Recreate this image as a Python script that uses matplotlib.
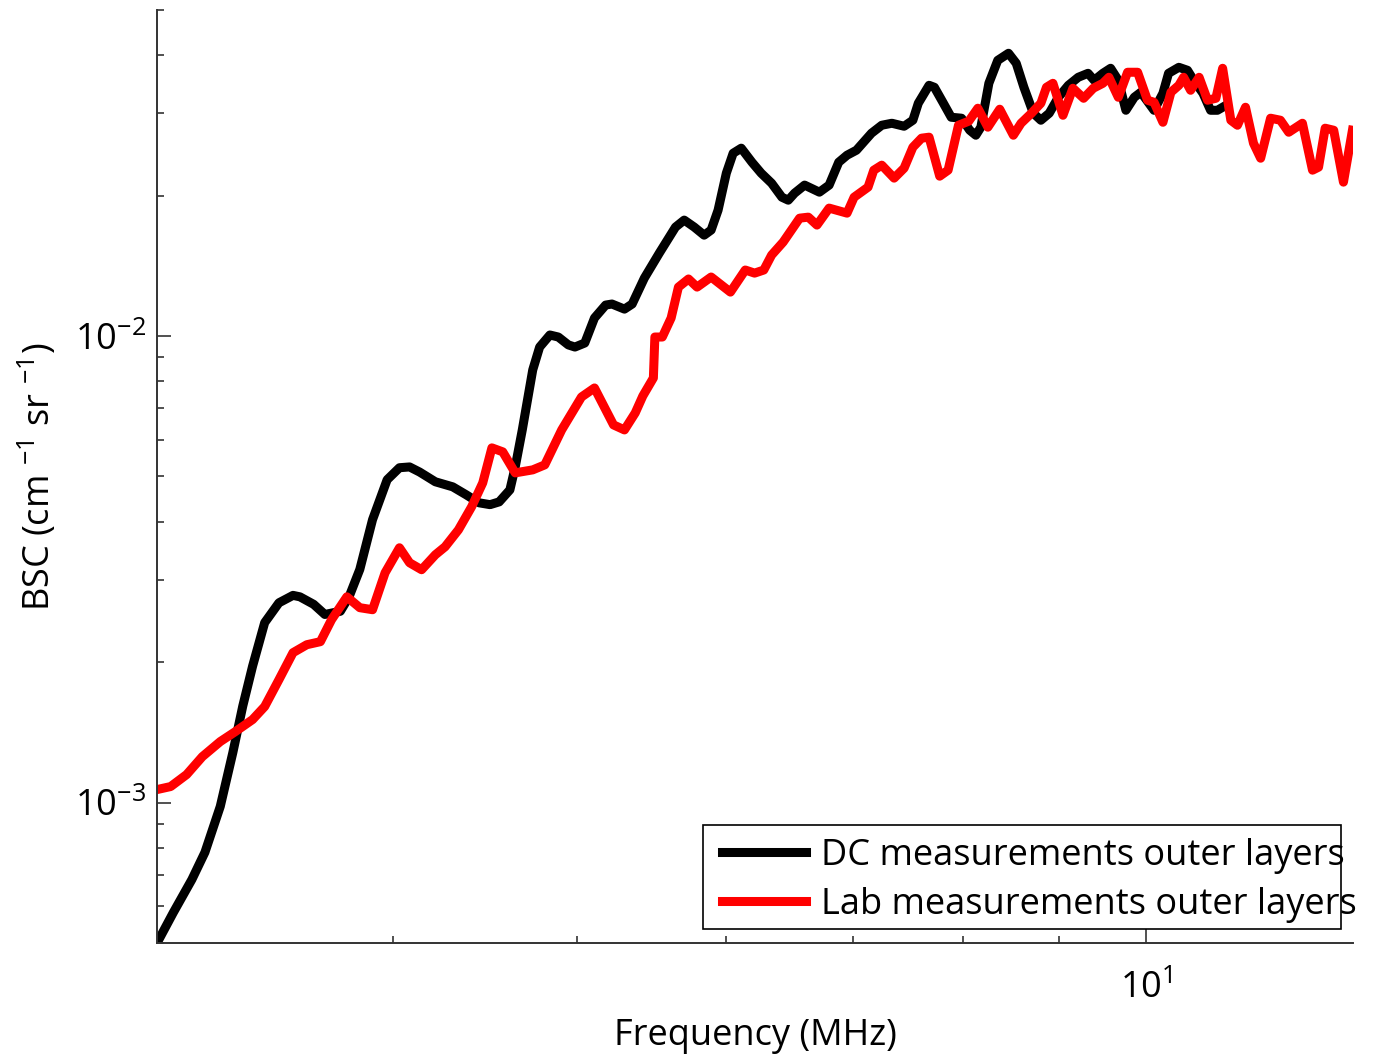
import matplotlib
matplotlib.use("Agg")
import matplotlib.pyplot as plt
from matplotlib.patches import Rectangle
from matplotlib.ticker import FixedLocator, NullFormatter

# backscatter coefficient spectra, DC vs lab, outer layers
dc_freq = [3.00, 3.06, 3.13, 3.18, 3.24, 3.29, 3.33, 3.37, 3.42, 3.48,
           3.54, 3.57, 3.63, 3.68, 3.75, 3.79, 3.84, 3.90, 3.97, 4.03,
           4.08, 4.13, 4.21, 4.30, 4.37, 4.44, 4.50, 4.55, 4.61, 4.64,
           4.68, 4.74, 4.78, 4.84, 4.89, 4.95, 4.99, 5.05, 5.11, 5.18,
           5.22, 5.30, 5.35, 5.43, 5.53, 5.64, 5.70, 5.77, 5.84, 5.89,
           5.94, 6.00, 6.05, 6.11, 6.19, 6.26, 6.34, 6.42, 6.47, 6.52,
           6.60, 6.72, 6.80, 6.88, 6.95, 7.03, 7.16, 7.25, 7.34, 7.45,
           7.53, 7.58, 7.68, 7.73, 7.81, 7.89, 7.99, 8.07, 8.13, 8.18,
           8.26, 8.35, 8.46, 8.54, 8.62, 8.72, 8.80, 8.89, 8.99, 9.10,
           9.21, 9.32, 9.39, 9.49, 9.58, 9.67, 9.76, 9.86, 9.94, 10.10,
           10.21, 10.28, 10.41, 10.52, 10.60, 10.72, 10.82, 10.91, 10.98]
dc_bsc = [5.00e-4, 5.81e-4, 6.84e-4, 7.82e-4, 9.81e-4, 1.28e-3, 1.61e-3, 1.96e-3, 2.43e-3, 2.68e-3,
          2.78e-3, 2.76e-3, 2.66e-3, 2.53e-3, 2.57e-3, 2.76e-3, 3.16e-3, 4.04e-3, 4.92e-3, 5.22e-3,
          5.24e-3, 5.11e-3, 4.87e-3, 4.75e-3, 4.57e-3, 4.39e-3, 4.35e-3, 4.41e-3, 4.68e-3, 5.24e-3,
          6.29e-3, 8.46e-3, 9.47e-3, 1.005e-2, 9.95e-3, 9.57e-3, 9.47e-3, 9.66e-3, 1.093e-2, 1.165e-2,
          1.171e-2, 1.142e-2, 1.171e-2, 1.331e-2, 1.506e-2, 1.712e-2, 1.772e-2, 1.712e-2, 1.645e-2, 1.687e-2,
          1.861e-2, 2.234e-2, 2.465e-2, 2.527e-2, 2.358e-2, 2.234e-2, 2.126e-2, 1.984e-2, 1.955e-2, 2.024e-2,
          2.106e-2, 2.034e-2, 2.106e-2, 2.358e-2, 2.441e-2, 2.502e-2, 2.721e-2, 2.830e-2, 2.858e-2, 2.816e-2,
          2.901e-2, 3.155e-2, 3.447e-2, 3.413e-2, 3.170e-2, 2.944e-2, 2.930e-2, 2.761e-2, 2.694e-2, 2.803e-2,
          3.481e-2, 3.899e-2, 4.037e-2, 3.842e-2, 3.413e-2, 3.003e-2, 2.901e-2, 3.003e-2, 3.249e-2, 3.447e-2,
          3.586e-2, 3.657e-2, 3.533e-2, 3.657e-2, 3.749e-2, 3.533e-2, 3.047e-2, 3.249e-2, 3.331e-2, 3.047e-2,
          3.314e-2, 3.657e-2, 3.767e-2, 3.712e-2, 3.533e-2, 3.314e-2, 3.047e-2, 3.047e-2, 3.093e-2]

lab_freq = [3.00, 3.05, 3.11, 3.17, 3.24, 3.30, 3.37, 3.42, 3.48, 3.54,
            3.60, 3.66, 3.71, 3.78, 3.84, 3.90, 3.96, 4.03, 4.08, 4.14,
            4.21, 4.26, 4.33, 4.40, 4.46, 4.51, 4.57, 4.64, 4.74, 4.81,
            4.91, 5.03, 5.11, 5.23, 5.30, 5.37, 5.42, 5.49, 5.50, 5.55,
            5.61, 5.66, 5.73, 5.79, 5.89, 6.03, 6.14, 6.21, 6.28, 6.34,
            6.43, 6.56, 6.63, 6.70, 6.80, 6.95, 7.01, 7.13, 7.18, 7.25,
            7.36, 7.45, 7.53, 7.61, 7.68, 7.78, 7.86, 7.96, 8.06, 8.15,
            8.25, 8.37, 8.51, 8.59, 8.70, 8.80, 8.86, 8.93, 9.04, 9.15,
            9.27, 9.38, 9.49, 9.56, 9.67, 9.78, 9.90, 10.02, 10.10, 10.21,
            10.31, 10.41, 10.47, 10.56, 10.67, 10.78, 10.89, 10.98, 11.09, 11.18,
            11.29, 11.40, 11.50, 11.64, 11.78, 11.90, 12.10, 12.25, 12.34, 12.44,
            12.57, 12.72, 12.86]
lab_bsc = [1.066e-3, 1.082e-3, 1.148e-3, 1.254e-3, 1.351e-3, 1.419e-3, 1.506e-3, 1.606e-3, 1.834e-3, 2.095e-3,
           2.179e-3, 2.212e-3, 2.465e-3, 2.760e-3, 2.616e-3, 2.590e-3, 3.108e-3, 3.516e-3, 3.265e-3, 3.155e-3,
           3.397e-3, 3.533e-3, 3.842e-3, 4.304e-3, 4.844e-3, 5.757e-3, 5.645e-3, 5.089e-3, 5.165e-3, 5.294e-3,
           6.291e-3, 7.402e-3, 7.738e-3, 6.448e-3, 6.291e-3, 6.841e-3, 7.439e-3, 8.130e-3, 9.950e-3, 9.950e-3,
           1.093e-2, 1.273e-2, 1.325e-2, 1.273e-2, 1.338e-2, 1.242e-2, 1.385e-2, 1.364e-2, 1.385e-2, 1.491e-2,
           1.590e-2, 1.789e-2, 1.798e-2, 1.729e-2, 1.880e-2, 1.834e-2, 1.984e-2, 2.085e-2, 2.267e-2, 2.324e-2,
           2.180e-2, 2.290e-2, 2.539e-2, 2.655e-2, 2.668e-2, 2.201e-2, 2.267e-2, 2.830e-2, 2.887e-2, 3.078e-2,
           2.803e-2, 3.063e-2, 2.694e-2, 2.858e-2, 3.003e-2, 3.155e-2, 3.413e-2, 3.481e-2, 2.973e-2, 3.397e-2,
           3.233e-2, 3.397e-2, 3.481e-2, 3.586e-2, 3.249e-2, 3.676e-2, 3.676e-2, 3.202e-2, 3.170e-2, 2.872e-2,
           3.331e-2, 3.447e-2, 3.586e-2, 3.363e-2, 3.586e-2, 3.202e-2, 3.233e-2, 3.749e-2, 2.901e-2, 2.830e-2,
           3.093e-2, 2.590e-2, 2.405e-2, 2.930e-2, 2.901e-2, 2.734e-2, 2.858e-2, 2.267e-2, 2.301e-2, 2.789e-2,
           2.761e-2, 2.137e-2, 2.761e-2]

series_labels = ["DC measurements outer layers", "Lab measurements outer layers"]
xtick_vals = [10]
xtick_text = [r"$10^{1}$"]
ytick_vals = [1e-3, 1e-2]
ytick_text = [r"$10^{-3}$", r"$10^{-2}$"]

plt.rcParams['font.family'] = ['Open Sans', 'DejaVu Sans']
plt.rcParams['mathtext.fontset'] = 'custom'
plt.rcParams['mathtext.rm'] = 'Open Sans'
plt.rcParams['mathtext.it'] = 'Open Sans'
plt.rcParams['mathtext.default'] = 'regular'

fig = plt.figure(figsize=(13.79, 10.57), dpi=100)
ax = fig.add_axes([0.1139, 0.1079, 0.8673, 0.8827])

ax.plot(dc_freq, dc_bsc, color='black', lw=6.5, label=series_labels[0], solid_joinstyle='round')
ax.plot(lab_freq, lab_bsc, color='red', lw=6.5, label=series_labels[1], solid_joinstyle='round')

ax.set_xscale('log')
ax.set_yscale('log')
ax.set_xlim(3.0, 12.87)
ax.set_ylim(5e-4, 5e-2)

ax.xaxis.set_major_locator(FixedLocator(xtick_vals))
ax.set_xticklabels(xtick_text)
ax.xaxis.set_minor_locator(FixedLocator([4, 5, 6, 7, 8, 9]))
ax.xaxis.set_minor_formatter(NullFormatter())
ax.yaxis.set_major_locator(FixedLocator(ytick_vals))
ax.set_yticklabels(ytick_text)
ax.yaxis.set_minor_formatter(NullFormatter())

for side in ['top', 'right']:
    ax.spines[side].set_visible(False)
for side in ['left', 'bottom']:
    ax.spines[side].set_color('#333333')
    ax.spines[side].set_linewidth(1.4)

ax.tick_params(which='both', direction='in', colors='#333333', labelcolor='black', labelsize=26, width=1.2)
ax.tick_params(which='major', length=10)
ax.tick_params(which='minor', length=5)
ax.tick_params(axis='x', which='major', pad=20)
ax.tick_params(axis='y', which='major', pad=8)

ax.set_xlabel('Frequency (MHz)', fontsize=26, labelpad=8)
ax.set_ylabel(r'BSC (cm $^{-1}$ sr $^{-1}$)', fontsize=26)
ax.yaxis.set_label_coords(-0.082, 0.5)

leg = ax.legend(loc='center left', bbox_to_anchor=(0.4724, 0.067), frameon=False,
                fontsize=26, handlelength=2.33, handletextpad=0.4, labelspacing=0.35,
                borderpad=0, borderaxespad=0)
ax.add_patch(Rectangle((0.4565, 0.015), 0.5335, 0.1115, transform=ax.transAxes,
                       fill=False, lw=1.2, edgecolor='black', clip_on=False, zorder=5))

plt.savefig('out.png', dpi=100)
plt.close('all')
